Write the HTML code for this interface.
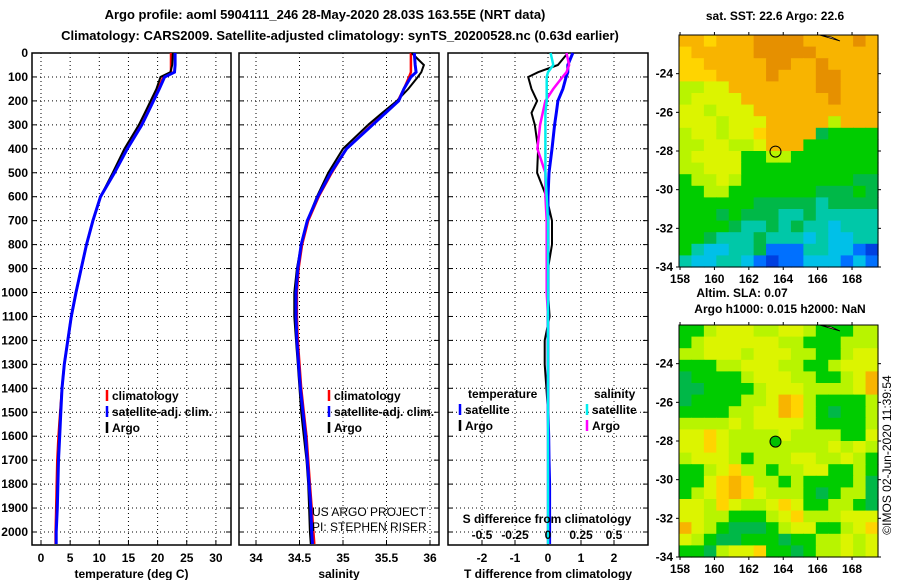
<!DOCTYPE html>
<html><head><meta charset="utf-8"><style>
body{margin:0;background:#fff;}
svg{display:block;font-family:"Liberation Sans",sans-serif;font-weight:bold;}
text{font-size:12px;fill:#000;}
</style></head><body>
<svg id="c" width="900" height="580" xmlns="http://www.w3.org/2000/svg">
<text x="325" y="19" text-anchor="middle" style="font-size:13px">Argo profile: aoml 5904111_246 28-May-2020 28.03S 163.55E (NRT data)</text>
<text x="340" y="40" text-anchor="middle" style="font-size:13px">Climatology: CARS2009. Satellite-adjusted climatology: synTS_20200528.nc (0.63d earlier)</text>
<text x="775" y="20" text-anchor="middle">sat. SST: 22.6 Argo: 22.6</text>
<text x="742" y="297" text-anchor="middle">Altim. SLA: 0.07</text>
<text x="780" y="313" text-anchor="middle">Argo h1000: 0.015 h2000: NaN</text>
<text transform="translate(891,455) rotate(-90)" text-anchor="middle" style="font-weight:normal">©IMOS 02-Jun-2020 11:39:54</text>
<g id="g"></g>
</svg>
<script>
// ---------- data ----------
const depths = [0,50,80,100,150,200,250,300,400,500,600,700,800,900,1000,1100,1200,1300,1400,1500,1600,1700,1800,1900,2000,2050];
const tempArgo = [22.6,22.5,22.2,20.5,19.8,18.8,17.8,16.8,14.3,12.3,10.2,8.9,7.8,6.9,6.0,5.2,4.6,4.0,3.6,3.3,3.1,2.9,2.8,2.7,2.6,2.6];
const tempClim = [22.3,22.3,22.3,21.0,20.1,19.1,18.1,17.1,14.6,12.5,10.2,8.9,7.8,6.9,6.0,5.2,4.6,4.0,3.6,3.3,3.0,2.8,2.7,2.6,2.5,2.5];
const tempSat = [23.0,23.0,22.9,21.2,20.3,19.3,18.3,17.3,14.8,12.6,10.2,8.9,7.8,6.9,6.0,5.2,4.6,4.0,3.6,3.4,3.2,3.0,2.9,2.8,2.6,2.6];
const salArgo = [35.79,35.93,35.90,35.86,35.75,35.62,35.45,35.29,35.0,34.83,34.70,34.59,34.52,34.47,34.44,34.44,34.46,34.48,34.50,34.52,34.55,34.58,34.60,34.61,34.62,34.63];
const salClim = [35.78,35.78,35.78,35.76,35.70,35.63,35.48,35.33,35.04,34.87,34.72,34.60,34.53,34.49,34.47,34.47,34.48,34.50,34.52,34.55,34.58,34.60,34.62,34.64,34.66,34.67];
const salSat = [35.82,35.83,35.84,35.78,35.70,35.64,35.49,35.34,35.04,34.86,34.71,34.59,34.52,34.48,34.46,34.46,34.47,34.49,34.51,34.54,34.57,34.59,34.61,34.63,34.64,34.65];
const dTArgo = [0.6,0.3,-0.3,-0.6,-0.5,-0.33,-0.5,-0.4,-0.3,-0.33,-0.05,0.12,0.12,0.0,0.0,0.05,-0.1,-0.1,-0.05,0.0,0.0,0.0,0.0,0.0,0.05,0.05];
const dTSat = [0.75,0.6,0.6,0.55,0.45,0.3,0.25,0.2,0.12,0.03,0.0,0.0,0.0,0.0,0.0,0.0,0.0,0.0,0.0,0.0,0.02,0.03,0.05,0.05,0.05,0.05];
const dSArgo = [0.14,0.16,0.14,0.11,0.04,-0.02,-0.04,-0.06,-0.08,-0.02,-0.02,-0.01,-0.01,-0.01,-0.01,0.0,0.0,0.0,0.0,0.0,0.0,0.0,0.0,0.0,0.0,0.0];
const dSSat = [0.02,0.04,0.0,-0.01,-0.01,-0.01,-0.02,-0.02,-0.02,-0.02,-0.01,0.0,0.0,0.0,0.0,0.0,0.0,0.0,0.0,0.0,0.0,0.0,0.0,0.0,0.0,0.0];
const depthTicks = [0,100,200,300,400,500,600,700,800,900,1000,1100,1200,1300,1400,1500,1600,1700,1800,1900,2000];
const tempTicks = [0,5,10,15,20,25,30];
const salTicks = [34,34.5,35,35.5,36];
const dTTicks = [-2,-1,0,1,2];
const dSTicks = [-0.5,-0.25,0,0.25,0.5];
const lonTicks = [158,160,162,164,166,168];
const latTicks = [-24,-26,-28,-30,-32,-34];
const argoLon = 163.55, argoLat = -28.03;
const sstGrid = [
"ooyoooOOOOooooOo","yoooooOOOOOooooo","yyoooooOOooOoooo","yyyooooOoooOOooo",
"LLYYoooooooOOooo","LYYYYoooooooOooo","YYLYYYoooooooooo","YYYLYYYoooooLooo",
"LYYLYYyoooogGGGG","LLYYLLYoooGGGGGG","LYYYYGGLLGGGGGGG","LLYYYGGGGGGGGGGG",
"GLLYLGGGGGGGGGgg","GGLLGGGGGGGgggGg","GGGGGGgggggtgggg","GGGgGgggttgttttt",
"GGGGgttgtgttcttt","GGgtttgtttctcctt","GtccttgbbbttccbB","tccttcbBbbcccbcb"];
const slaGrid = [
"GGLYYYLLYYLGGGLL","GLYYYYYYLLGGGLLL","LLYYYLYYYLLGGLYY","GGGLLYYYLLGGLYYY",
"gGGGGLYYYLLGGLYo","ggGGGGLYYYLLLLYo","gGGGGLLYoyLGGGGL","GGGGLLYYoyLGgGGL",
"LLLLYLYYYYLGGGGL","YYyYLLLLYLLLLGGY","YYyYLLLLLLLLYLYL","LYYYLGLLLYYLLYLG",
"GGLYyLLGLLYYGGLG","GGYyoyLLGLGGGGLg","GLYyoyYLLLGgGLLg","YYLyYLLYyYGGLLGg",
"YYLLGGGLYyLLLYYY","oYLGgggGLYYGGLYy","YLGggGGGgGGLLYLY","GGgLYYyGGgGLLYLY"];
const palette = {O:"#e69000",o:"#f8b400",y:"#ffd400",Y:"#dcf400",L:"#b8f400",G:"#00cc00",g:"#00b848",t:"#00c8a8",c:"#00c0e8",b:"#0070ff",B:"#0040e0"};

// ---------- drawing ----------
const NS="http://www.w3.org/2000/svg", G=document.getElementById('g');
function el(tag,attrs,parent){const e=document.createElementNS(NS,tag);for(const k in attrs)e.setAttribute(k,attrs[k]);(parent||G).appendChild(e);return e;}
const Y0=53, YS=(532-53)/2000, PT=53, PB=545;
const yD = d => Y0 + d*YS;
function panel(x0,x1,name,fx,xt,lbl,xlabel){
  const gp=el('g',{});
  
  
  el('rect',{x:x0,y:PT,width:x1-x0,height:PB-PT,fill:'none',stroke:'#000','stroke-width':1.5},gp);
  depthTicks.forEach(d=>{el('line',{x1:x0,x2:x1,y1:yD(d),y2:yD(d),stroke:'#000','stroke-dasharray':'1 3'},gp);
    el('line',{x1:x0,x2:x0+5,y1:yD(d),y2:yD(d),stroke:'#000'},gp);el('line',{x1:x1-5,x2:x1,y1:yD(d),y2:yD(d),stroke:'#000'},gp);});
  xt.forEach((v,i)=>{const x=fx(v);el('line',{x1:x,x2:x,y1:PT,y2:PB,stroke:'#000','stroke-dasharray':'1 3'},gp);
    el('line',{x1:x,x2:x,y1:PB-5,y2:PB,stroke:'#000'},gp);
    const t=el('text',{x:x,y:562,'text-anchor':'middle'},gp);t.textContent=lbl[i];
    
    });
  const xl=el('text',{x:(x0+x1)/2,y:578,'text-anchor':'middle'},gp);xl.textContent=xlabel;
  
  
  return gp;
}
function line(fx,vals,color,w,name,gp){
  const pts=vals.map((v,i)=>fx(v).toFixed(1)+','+yD(depths[i]).toFixed(1)).join(' ');
  const p=el('polyline',{points:pts,fill:'none',stroke:color,'stroke-width':w},gp);
  
  
}
function legend(gp,x,y,items){
  items.forEach((it,i)=>{const yy=y+i*16;
    el('line',{x1:x,x2:x,y1:yy-10,y2:yy+1,stroke:it[1],'stroke-width':2.5},gp);
    const t=el('text',{x:x+5,y:yy},gp);t.textContent=it[0];
    
    });
}
depthTicks.forEach(d=>{const t=el('text',{x:28,y:yD(d)+4,'text-anchor':'end'});t.textContent=d;
  
  });
const fT=v=>41+v*5.83;
let p1=panel(32,231,'temperature-panel',fT,tempTicks,tempTicks.map(String),'temperature (deg C)');
line(fT,tempClim,'#f00',2.5,'temp-climatology-line',p1);
line(fT,tempArgo,'#000',2,'temp-argo-line',p1);
line(fT,tempSat,'#00f',3,'temp-satellite-line',p1);
legend(p1,107,400,[['climatology','#f00'],['satellite-adj. clim.','#00f'],['Argo','#000']]);
const fS=v=>256+(v-34)*87;
let p2=panel(239,439,'salinity-panel',fS,salTicks,['34','34.5','35','35.5','36'],'salinity');
line(fS,salClim,'#f00',2.5,'sal-climatology-line',p2);
line(fS,salArgo,'#000',2,'sal-argo-line',p2);
line(fS,salSat,'#00f',3,'sal-satellite-line',p2);
legend(p2,329,400,[['climatology','#f00'],['satellite-adj. clim.','#00f'],['Argo','#000']]);
[['US ARGO PROJECT',516],['PI: STEPHEN RISER',531]].forEach(a=>{const t=el('text',{x:312,y:a[1],style:'font-weight:normal'},p2);t.textContent=a[0];
  
  });
const fdT=v=>548+v*33, fdS=v=>548+v*132;
let p3=panel(448,648,'difference-panel',fdT,dTTicks,['-2','-1','0','1','2'],'T difference from climatology');
line(fdT,dTArgo,'#000',2,'dT-argo-line',p3);
line(fdT,dTSat,'#00f',3,'dT-satellite-line',p3);
line(fdS,dSArgo,'#f0f',2.5,'dS-argo-line',p3);
line(fdS,dSSat,'#0ee',2.5,'dS-satellite-line',p3);
let th=el('text',{x:468,y:398},p3);th.textContent='temperature';


let sh=el('text',{x:594,y:398},p3);sh.textContent='salinity';


legend(p3,460,414,[['satellite','#00f'],['Argo','#000']]);
legend(p3,587,414,[['satellite','#0ee'],['Argo','#f0f']]);
let st=el('text',{x:547,y:523,'text-anchor':'middle'},p3);st.textContent='S difference from climatology';


dSTicks.forEach(v=>{const t=el('text',{x:fdS(v),y:539,'text-anchor':'middle'},p3);t.textContent=String(v);
  
  });
function map(top,bot,grid,name,fillCircle){
  const gm=el('g',{});
  
  
  const L=679,R=878,lon0=157.94,lonS=17.2,latS=(bot-top)/(12.0);
  const fx=lon=>L+(lon-lon0)*lonS, fy=lat=>bot-(lat+34)*latS;
  const rows=grid.length,cols=grid[0].length,cw=(R-L)/cols,ch=(bot-top)/rows;
  grid.forEach((r,i)=>{for(let j=0;j<cols;j++){
    const c=el('rect',{x:L+j*cw,y:top+i*ch,width:cw+0.6,height:ch+0.6,fill:palette[r[j]]},gm);
    
    }});
  el('rect',{x:L,y:top,width:R-L,height:bot-top,fill:'none',stroke:'#000'},gm);
  el('path',{d:`M${fx(166.1)},${top} L${fx(167.3)},${top+6} L${fx(166.8)},${top+2} Z`,fill:'#f4b8a0',stroke:'#000','stroke-width':0.7},gm);
  latTicks.forEach(v=>{const y=fy(v);el('line',{x1:L-3,x2:L,y1:y,y2:y,stroke:'#000'},gm);el('line',{x1:R,x2:R+3,y1:y,y2:y,stroke:'#000'},gm);
    const t=el('text',{x:L-6,y:y+4,'text-anchor':'end'},gm);t.textContent=v;
    
    });
  lonTicks.forEach(v=>{const x=fx(v);el('line',{x1:x,x2:x,y1:top-3,y2:top,stroke:'#000'},gm);el('line',{x1:x,x2:x,y1:bot,y2:bot+3,stroke:'#000'},gm);
    const t=el('text',{x:x,y:bot+16,'text-anchor':'middle'},gm);t.textContent=v;
    
    });
  const c=el('circle',{cx:fx(argoLon),cy:fy(argoLat),r:5.5,fill:fillCircle,stroke:'#000','stroke-width':1},gm);
  
  
}
map(35,267,sstGrid,'sst-map','none');
map(325,557,slaGrid,'sla-map','#00c000');
</script>
</body></html>
